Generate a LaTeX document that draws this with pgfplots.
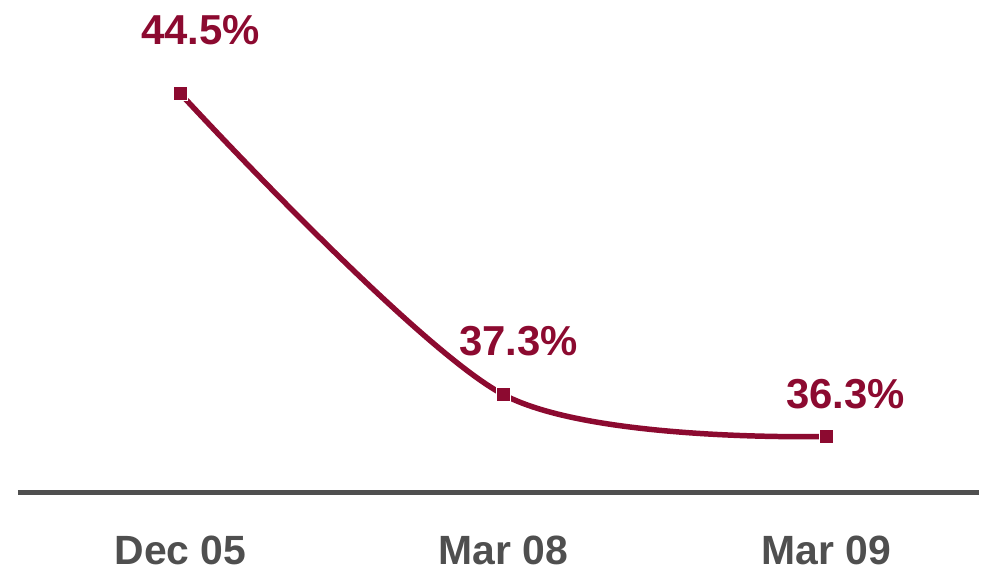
\documentclass[border=0pt]{standalone}
\usepackage{pgfplots}
\pgfplotsset{compat=1.18}
\usepackage{fontspec}
\setmainfont{Liberation Sans}
\definecolor{wine}{HTML}{8C0A30}
\definecolor{axgray}{HTML}{4F4F4F}
\begin{document}
\begin{tikzpicture}
\begin{axis}[
  scale only axis,
  width=964pt, height=494pt,
  xmin=-0.503, xmax=2.472,
  ymin=34.96, ymax=46.74,
  clip=false,
  axis x line*=bottom,
  hide y axis,
  axis line style={line width=6pt, color=axgray, -},
  xtick={0,1,2},
  xticklabels={Dec 05, Mar 08, Mar 09},
  major tick length=0pt,
  xticklabel style={font=\fontsize{41}{48}\selectfont\bfseries, text=axgray, yshift=-40pt},
]
\addplot[color=wine, line width=5.5pt, smooth, tension=0.5,
  mark=square*, mark size=7pt, mark options={fill=wine, draw=white, line width=1pt}]
  coordinates {(0,44.5) (1,37.3) (2,36.3)};
\node[font=\fontsize{42}{48}\selectfont\bfseries, text=wine, anchor=base] at ([xshift=20pt,yshift=49pt]axis cs:0,44.5) {44.5\%};
\node[font=\fontsize{42}{48}\selectfont\bfseries, text=wine, anchor=base] at ([xshift=15pt,yshift=39pt]axis cs:1,37.3) {37.3\%};
\node[font=\fontsize{42}{48}\selectfont\bfseries, text=wine, anchor=base] at ([xshift=19pt,yshift=28pt]axis cs:2,36.3) {36.3\%};
\end{axis}
\path ([xshift=-18pt]current axis.north west) -- ([yshift=-79pt]current axis.south east);
\end{tikzpicture}
\end{document}
